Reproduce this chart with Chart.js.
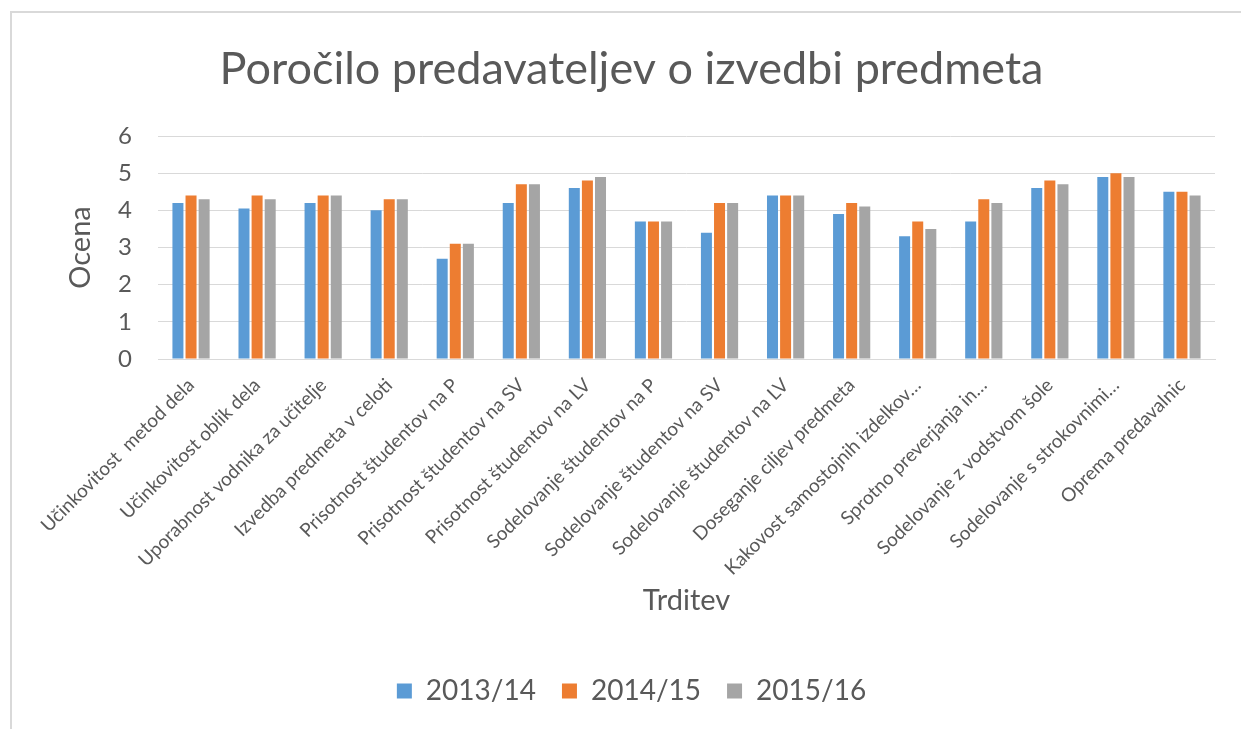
<!DOCTYPE html>
<html><head><meta charset="utf-8">
<script src="https://cdn.jsdelivr.net/npm/chart.js@4"></script>
<style>
html,body{margin:0;padding:0;background:#fff;overflow:hidden;width:1241px;height:729px}
#frame{position:absolute;left:10px;top:11px;width:1260px;height:740px;border:2px solid #d9d9d9;box-sizing:border-box}
#c{position:absolute;left:0;top:0}
</style></head><body>
<div id="frame"></div>
<canvas id="c" width="1241" height="729"></canvas>
<script>
const categories = [
  "Učinkovitost  metod dela",
  "Učinkovitost oblik dela",
  "Uporabnost vodnika za učitelje",
  "Izvedba predmeta v celoti",
  "Prisotnost študentov na P",
  "Prisotnost študentov na SV",
  "Prisotnost študentov na LV",
  "Sodelovanje študentov na P",
  "Sodelovanje študentov na SV",
  "Sodelovanje študentov na LV",
  "Doseganje ciljev predmeta",
  "Kakovost samostojnih izdelkov…",
  "Sprotno preverjanja in…",
  "Sodelovanje z vodstvom šole",
  "Sodelovanje s strokovnimi…",
  "Oprema predavalnic"
];
const seriesNames = ["2013/14", "2014/15", "2015/16"];
const values2013 = [4.2, 4.05, 4.2, 4.0, 2.7, 4.2, 4.6, 3.7, 3.4, 4.4, 3.9, 3.3, 3.7, 4.6, 4.9, 4.5];
const values2014 = [4.4, 4.4, 4.4, 4.3, 3.1, 4.7, 4.8, 3.7, 4.2, 4.4, 4.2, 3.7, 4.3, 4.8, 5.0, 4.5];
const values2015 = [4.3, 4.3, 4.4, 4.3, 3.1, 4.7, 4.9, 3.7, 4.2, 4.4, 4.1, 3.5, 4.2, 4.7, 4.9, 4.4];
const yTicks = [0, 1, 2, 3, 4, 5, 6];
const titleText = "Poročilo predavateljev o izvedbi predmeta";
const xTitle = "Trditev";
const yTitle = "Ocena";

const colors = ["#5B9BD5", "#ED7D31", "#A5A5A5"];
const textColor = "#595959";
const FONT = "Lato, 'Open Sans', sans-serif";

new Chart(document.getElementById("c"), {
  type: "bar",
  data: {
    labels: categories,
    datasets: [values2013, values2014, values2015].map((v, i) => ({
      label: seriesNames[i],
      data: v,
      backgroundColor: colors[i],
      borderWidth: 0,
      categoryPercentage: 0.595,
      barPercentage: 0.84
    }))
  },
  options: {
    responsive: false,
    animation: false,
    devicePixelRatio: 1,
    layout: { padding: { left: 48, right: 26, top: 0, bottom: 14 } },
    plugins: {
      tooltip: { enabled: false },
      title: {
        display: true,
        text: titleText,
        color: textColor,
        font: { family: FONT, size: 45, weight: "normal" },
        padding: { top: 42, bottom: 40 }
      },
      legend: {
        position: "bottom",
        labels: {
          color: textColor,
          font: { family: FONT, size: 28 },
          boxWidth: 15,
          boxHeight: 15,
          padding: 26
        }
      }
    },
    scales: {
      x: {
        grid: { display: false },
        border: { display: true, color: "#d9d9d9", width: 1 },
        ticks: {
          color: textColor,
          font: { family: FONT, size: 19 },
          autoSkip: false,
          maxRotation: 45,
          minRotation: 45,
          padding: 7,
          labelOffset: 0
        },
        title: {
          display: true,
          text: xTitle,
          color: textColor,
          font: { family: FONT, size: 29 },
          padding: { top: 0, bottom: 33 }
        },
        afterFit: s => { s.height = 292; }
      },
      y: {
        min: 0,
        max: 6,
        afterBuildTicks: s => { s.ticks = yTicks.map(v => ({ value: v })); },
        grid: { color: "#d9d9d9", lineWidth: 1, drawTicks: false },
        border: { display: false },
        ticks: {
          color: textColor,
          font: { family: FONT, size: 24 },
          padding: 26
        },
        title: {
          display: true,
          text: yTitle,
          color: textColor,
          font: { family: FONT, size: 29 },
          padding: { top: 15, bottom: 0 }
        },
        afterFit: s => { s.width = 110; }
      }
    }
  }
});
</script>
</body></html>
